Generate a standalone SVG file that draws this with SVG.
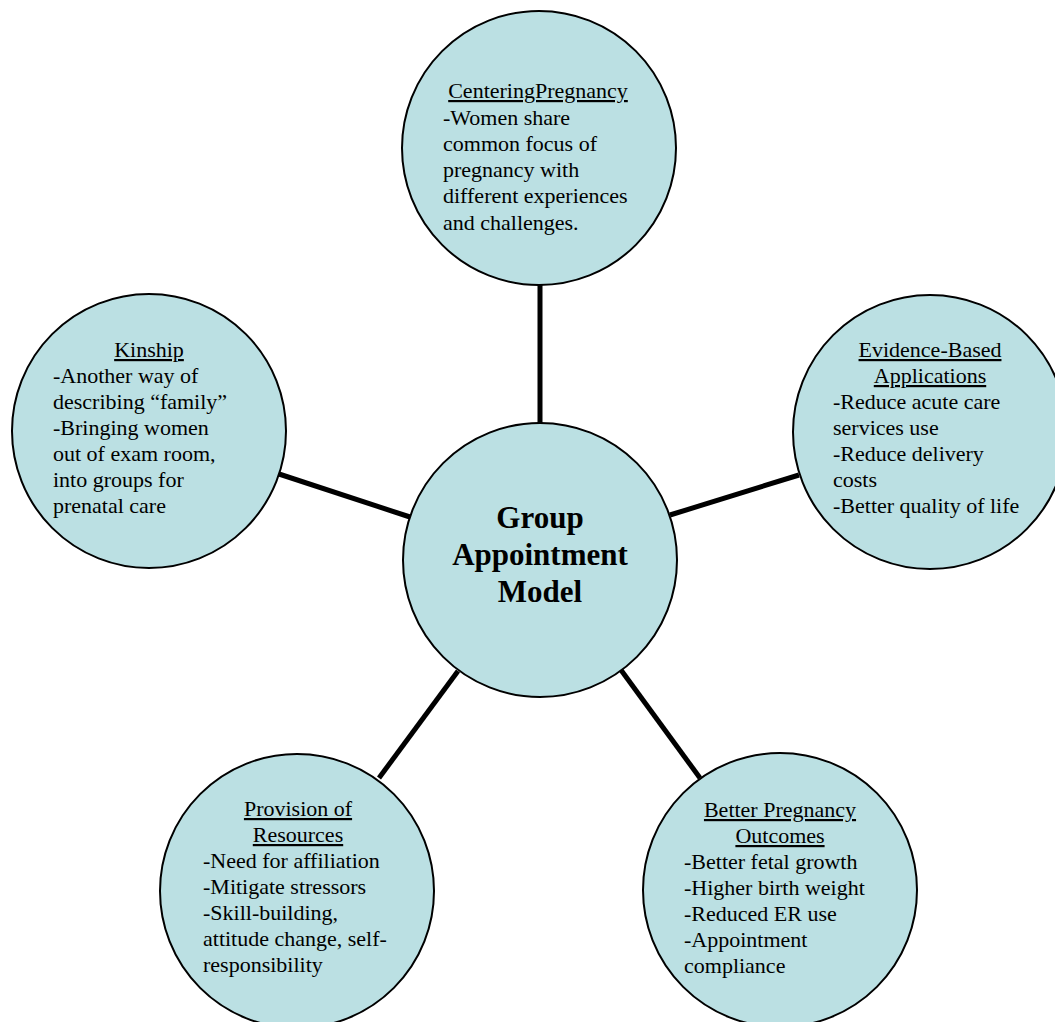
<svg xmlns="http://www.w3.org/2000/svg" width="1055" height="1022" viewBox="0 0 1055 1022">
<style>
.node{fill:#BBE0E3;stroke:#000;stroke-width:2}
.t{font-family:"Liberation Serif","Times New Roman",serif;font-size:22px;fill:#000}
.h{text-anchor:middle;text-decoration:underline}
.c{font-family:"Liberation Serif","Times New Roman",serif;font-size:31px;font-weight:bold;text-anchor:middle;fill:#000}
.conn{stroke:#000;stroke-width:5;fill:none}
</style>
<rect width="1055" height="1022" fill="#fff"/>
<g id="connectors">
<line class="conn" x1="540" y1="285" x2="540" y2="423"/>
<line class="conn" x1="279" y1="474" x2="410" y2="517"/>
<line class="conn" x1="799" y1="475" x2="670" y2="515"/>
<line class="conn" x1="458" y1="671" x2="379" y2="778"/>
<line class="conn" x1="621" y1="670" x2="700" y2="778"/>
</g>
<g id="center">
<circle class="node" cx="540" cy="560" r="137"/>
<text class="c" x="540" y="528">Group</text>
<text class="c" x="540" y="565">Appointment</text>
<text class="c" x="540" y="602">Model</text>
</g>
<g id="centering">
<circle class="node" cx="539" cy="148" r="137"/>
<text class="t h" x="538" y="98">CenteringPregnancy</text>
<text class="t" x="443" y="125">-Women share</text>
<text class="t" x="443" y="151">common focus of</text>
<text class="t" x="443" y="177">pregnancy with</text>
<text class="t" x="443" y="203">different experiences</text>
<text class="t" x="443" y="230">and challenges.</text>
</g>
<g id="kinship">
<circle class="node" cx="149" cy="431" r="137"/>
<text class="t h" x="149" y="357">Kinship</text>
<text class="t" x="53" y="383">-Another way of</text>
<text class="t" x="53" y="409">describing “family”</text>
<text class="t" x="53" y="435">-Bringing women</text>
<text class="t" x="53" y="461">out of exam room,</text>
<text class="t" x="53" y="487">into groups for</text>
<text class="t" x="53" y="513">prenatal care</text>
</g>
<g id="evidence">
<circle class="node" cx="930" cy="432" r="137"/>
<text class="t h" x="930" y="357">Evidence-Based</text>
<text class="t h" x="930" y="383">Applications</text>
<text class="t" x="833" y="409">-Reduce acute care</text>
<text class="t" x="833" y="435">services use</text>
<text class="t" x="833" y="461">-Reduce delivery</text>
<text class="t" x="833" y="487">costs</text>
<text class="t" x="833" y="513">-Better quality of life</text>
</g>
<g id="provision">
<circle class="node" cx="297" cy="891" r="137"/>
<text class="t h" x="298" y="816">Provision of</text>
<text class="t h" x="298" y="842">Resources</text>
<text class="t" x="203" y="868">-Need for affiliation</text>
<text class="t" x="203" y="894">-Mitigate stressors</text>
<text class="t" x="203" y="920">-Skill-building,</text>
<text class="t" x="203" y="946">attitude change, self-</text>
<text class="t" x="203" y="972">responsibility</text>
</g>
<g id="outcomes">
<circle class="node" cx="780" cy="890" r="137"/>
<text class="t h" x="780" y="817">Better Pregnancy</text>
<text class="t h" x="780" y="843">Outcomes</text>
<text class="t" x="684" y="869">-Better fetal growth</text>
<text class="t" x="684" y="895">-Higher birth weight</text>
<text class="t" x="684" y="921">-Reduced ER use</text>
<text class="t" x="684" y="947">-Appointment</text>
<text class="t" x="684" y="973">compliance</text>
</g>
</svg>
